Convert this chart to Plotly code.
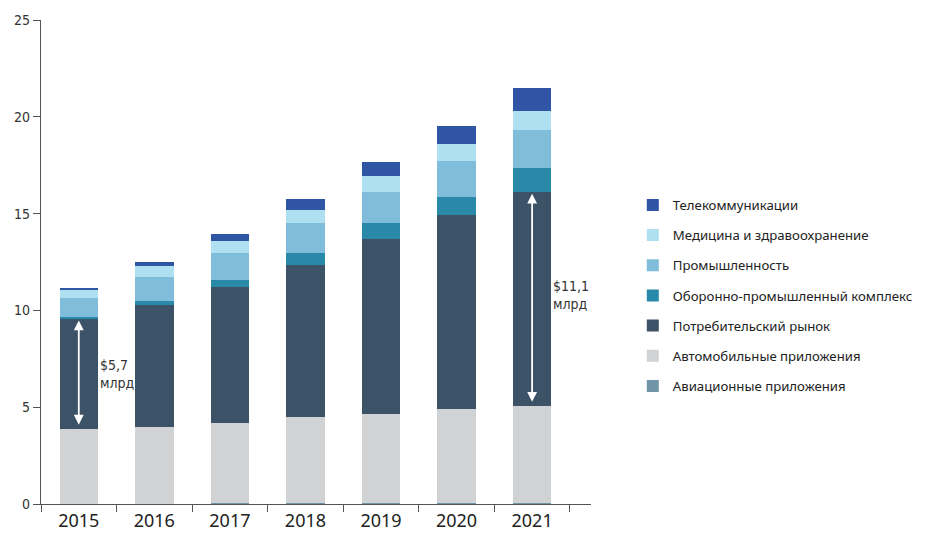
import plotly.graph_objects as go

years = ["2015", "2016", "2017", "2018", "2019", "2020", "2021"]

aviation = [0.0, 0.01, 0.03, 0.04, 0.07, 0.07, 0.07]
automotive = [3.9, 3.99, 4.16, 4.43, 4.6, 4.86, 5.01]
consumer = [5.68, 6.29, 7.03, 7.89, 9.04, 10.02, 11.05]
defense = [0.07, 0.21, 0.35, 0.58, 0.78, 0.93, 1.2]
industry = [0.97, 1.23, 1.4, 1.55, 1.64, 1.86, 2.01]
medical = [0.47, 0.57, 0.63, 0.71, 0.83, 0.88, 0.98]
telecom = [0.05, 0.21, 0.35, 0.57, 0.72, 0.93, 1.19]

series = [
    ("Авиационные приложения", aviation, "#6f95a6"),
    ("Автомобильные приложения", automotive, "#d1d2d4"),
    ("Потребительский рынок", consumer, "#3c5267"),
    ("Оборонно-промышленный комплекс", defense, "#2889a8"),
    ("Промышленность", industry, "#7fbdda"),
    ("Медицина и здравоохранение", medical, "#aee0f2"),
    ("Телекоммуникации", telecom, "#2f55a4"),
]

y_ticks = [0, 5, 10, 15, 20, 25]
labels = [("$5,7<br>млрд", 0), ("$11,1<br>млрд", 6)]

fig = go.Figure()
n = len(series)
for i, (name, vals, color) in enumerate(series):
    fig.add_trace(go.Bar(
        x=years, y=vals, name=name, marker=dict(color=color, line=dict(width=0)),
        legendgroup="g%d" % i, legendrank=100 * (n - i),
    ))

narrow = "Liberation Sans Narrow, DejaVu Sans Condensed, Arial Narrow, sans-serif"

# arrows and labels for consumer segment
for text, idx in labels:
    base = aviation[idx] + automotive[idx]
    top = base + consumer[idx]
    xpos = idx
    fig.add_annotation(x=xpos, y=top - 0.1, ax=xpos, ay=base + 0.12,
                       xref="x", yref="y", axref="x", ayref="y",
                       text="", showarrow=True, arrowhead=2, arrowside="end+start",
                       arrowsize=1.1, arrowwidth=1.8, arrowcolor="white",
                       standoff=0, startstandoff=0)
    fig.add_annotation(x=idx + 0.25, y=(base + top) / 2 + (0.0 if idx == 0 else 0.2),
                       xref="x", yref="y", text=text, showarrow=False,
                       xanchor="left", yanchor="middle", align="left",
                       font=dict(family=narrow, size=14, color="#333333"))

fig.update_layout(
    barmode="stack",
    bargap=0.49,
    width=930, height=535,
    margin=dict(l=41, r=339, t=20, b=31, autoexpand=False),
    plot_bgcolor="white", paper_bgcolor="white",
    showlegend=True,
    legend=dict(
        traceorder="grouped", tracegroupgap=10,
        x=1.076, xanchor="left", y=0.43, yanchor="middle",
        font=dict(family="Noto Sans, sans-serif", size=13.2, color="#222222"),
        bgcolor="rgba(0,0,0,0)",
    ),
    xaxis=dict(
        type="category", showline=True, linecolor="#555555", linewidth=1.2,
        ticks="outside", tickson="boundaries", ticklen=7, tickcolor="#555555",
        tickwidth=1.2, tickfont=dict(family="Noto Sans, sans-serif", size=18, color="#222222"),
        showgrid=False, zeroline=False, automargin=False,
    ),
    yaxis=dict(
        range=[0, 25], tickvals=y_ticks, showline=True, linecolor="#555555",
        linewidth=1.2, ticks="outside", ticklen=7, tickcolor="#555555", tickwidth=1.2,
        tickfont=dict(family=narrow, size=14, color="#333333"),
        showgrid=False, zeroline=False, automargin=False,
    ),
)

fig.write_html("out.html")
